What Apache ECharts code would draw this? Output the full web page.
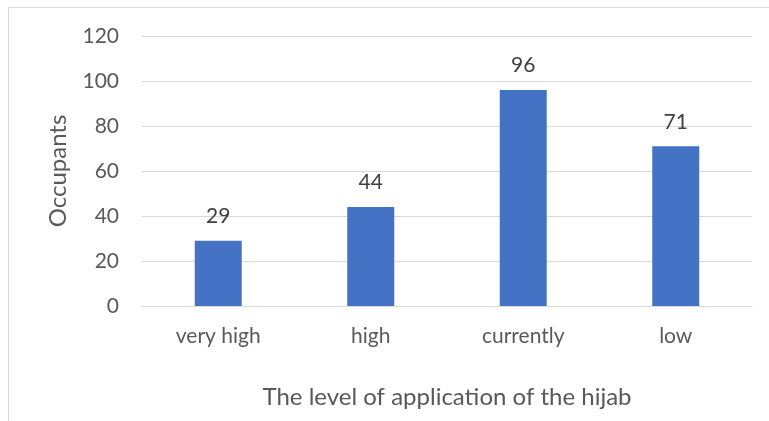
<!DOCTYPE html>
<html>
<head>
<meta charset="utf-8">
<script src="https://cdn.jsdelivr.net/npm/echarts@6/dist/echarts.min.js"></script>
<style>
  html, body { margin: 0; padding: 0; background: #fff; }
  #frame { position: absolute; left: 8px; top: 7px; width: 780px; height: 430px; border: 1px solid #D9D9D9; box-sizing: border-box; }
  #chart { position: absolute; left: 0; top: 0; width: 769px; height: 421px; }
</style>
</head>
<body>
<div id="frame"></div>
<div id="chart"></div>
<script>
// Hijab application levels and number of occupants
const categories = ['very high', 'high', 'currently', 'low'];
const occupants = [29, 44, 96, 71];
const yTicks = { min: 0, max: 120, interval: 20 };

const font = 'Lato, "Open Sans", sans-serif';
const chart = echarts.init(document.getElementById('chart'), null, { renderer: 'canvas' });
chart.setOption({
  animation: false,
  grid: { left: 142, right: 17, top: 36, bottom: 115, containLabel: false },
  xAxis: {
    type: 'category',
    data: categories,
    name: 'The level of application of the hijab',
    nameLocation: 'middle',
    nameGap: 79,
    nameTextStyle: { color: '#595959', fontSize: 24, fontFamily: font },
    axisLine: { show: true, lineStyle: { color: '#D9D9D9', width: 1 } },
    axisTick: { show: false },
    axisLabel: { color: '#595959', fontSize: 21, fontFamily: font, margin: 20 }
  },
  yAxis: {
    type: 'value',
    min: yTicks.min,
    max: yTicks.max,
    interval: yTicks.interval,
    name: 'Occupants',
    nameLocation: 'middle',
    nameGap: 72,
    nameTextStyle: { color: '#595959', fontSize: 24, fontFamily: font },
    axisLine: { show: false },
    axisTick: { show: false },
    axisLabel: { color: '#595959', fontSize: 21, fontFamily: font, margin: 23 },
    splitLine: { lineStyle: { color: '#D9D9D9', width: 1 } }
  },
  series: [{
    type: 'bar',
    data: occupants,
    barWidth: 47,
    itemStyle: { color: '#4472C4' },
    label: {
      show: true,
      position: 'top',
      distance: 14,
      color: '#404040',
      fontSize: 21,
      fontFamily: font
    }
  }]
});
</script>
</body>
</html>
